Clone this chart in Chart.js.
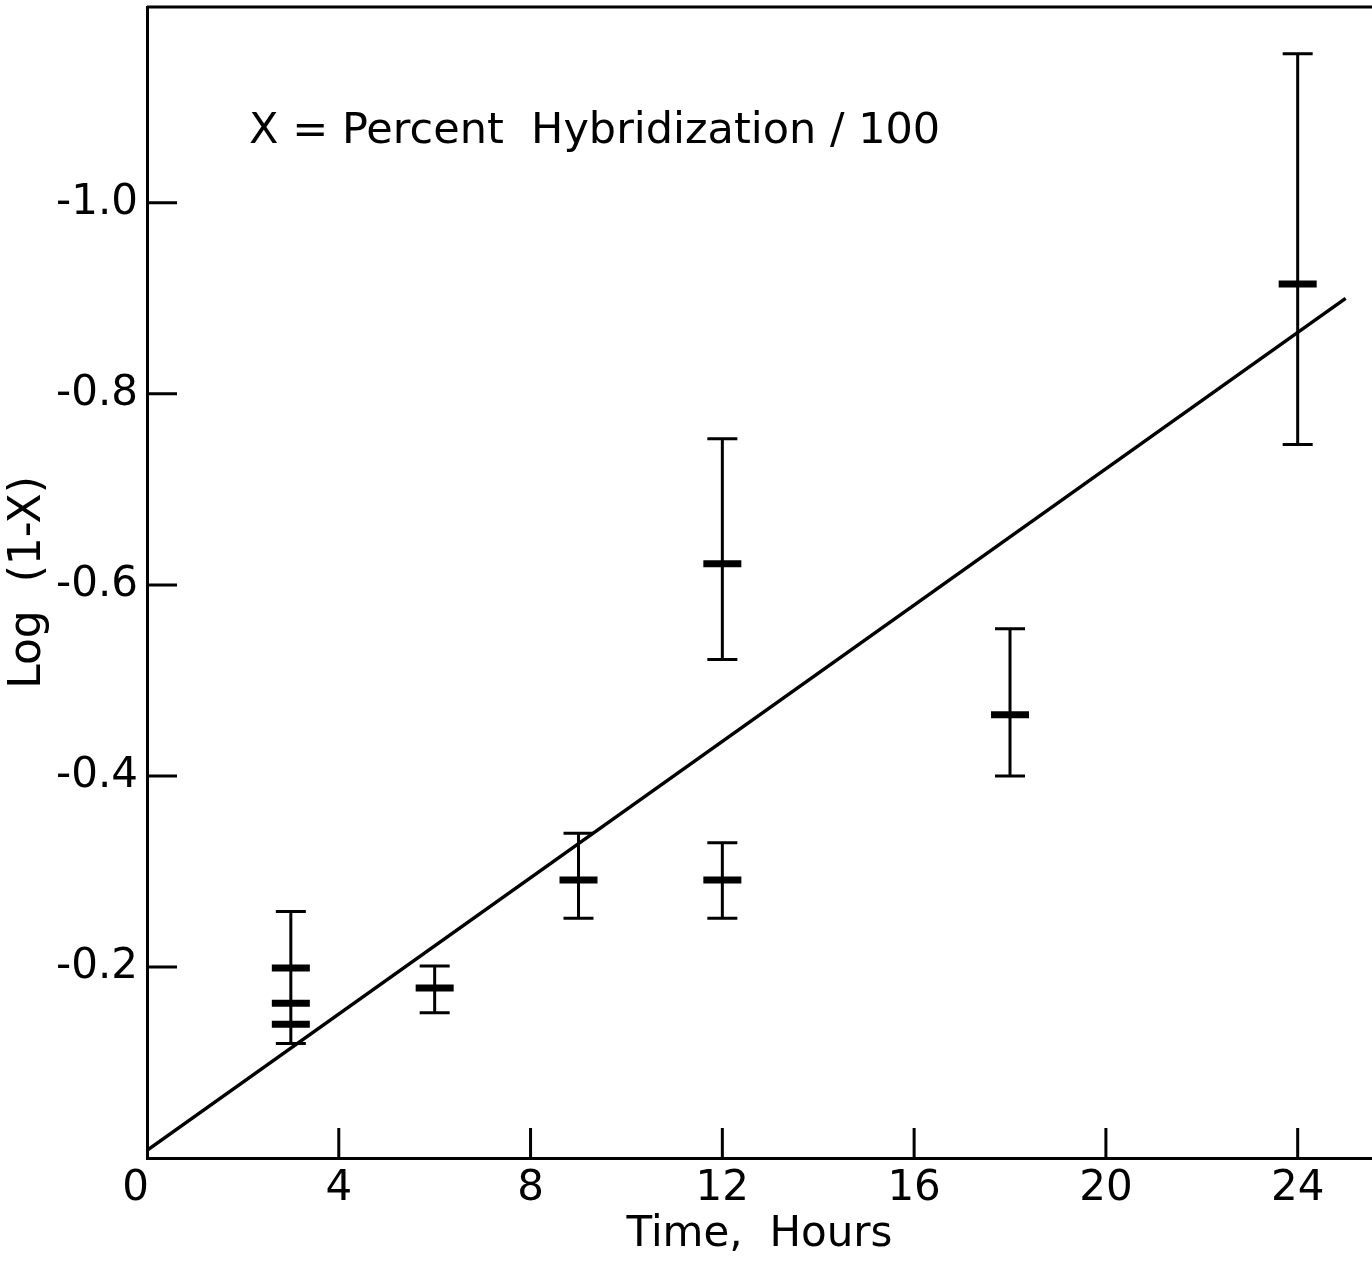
<!DOCTYPE html>
<html>
<head>
<meta charset="utf-8">
<script src="https://cdn.jsdelivr.net/npm/chart.js@4"></script>
<style>
  html, body { margin: 0; padding: 0; background: #fff; }
</style>
</head>
<body>
<canvas id="c" width="1372" height="1286"></canvas>
<script>
// measured points: time (h), log(1-X) centre, and error bar ends
var hours    = [3, 3, 3, 6, 9, 12, 12, 18, 24];
var logVals  = [-0.199, -0.162, -0.140, -0.178, -0.291, -0.291, -0.622, -0.464, -0.915];
var barLow   = [-0.120, null, null, -0.152, -0.251, -0.251, -0.522, -0.400, -0.747];
var barHigh  = [-0.258, null, null, -0.201, -0.340, -0.330, -0.753, -0.554, -1.156];

// fitted straight line
var fitHours = [0, 25];
var fitVals  = [-0.008, -0.900];

var xTicks = [0, 4, 8, 12, 16, 20, 24];
var yTicks = [-0.2, -0.4, -0.6, -0.8, -1.0];

var FONT = "'DejaVu Sans', sans-serif";

// error bars, inward tick marks + labels, top frame line and the note text
var extras = {
  id: 'extras',
  afterDatasetsDraw: function(chart) {
    var ctx = chart.ctx, xs = chart.scales.x, ys = chart.scales.y, area = chart.chartArea;
    ctx.save();
    ctx.strokeStyle = '#000';
    ctx.lineCap = 'butt';

    for (var i = 0; i < hours.length; i++) {
      if (barLow[i] == null) continue;
      var px = xs.getPixelForValue(hours[i]);
      var y1 = ys.getPixelForValue(barLow[i]);
      var y2 = ys.getPixelForValue(barHigh[i]);
      ctx.lineWidth = 3;
      ctx.beginPath();
      ctx.moveTo(px, y1); ctx.lineTo(px, y2);
      ctx.moveTo(px - 15, y1); ctx.lineTo(px + 15, y1);
      ctx.moveTo(px - 15, y2); ctx.lineTo(px + 15, y2);
      ctx.stroke();
    }

    // ticks pointing into the plot
    ctx.lineWidth = 3;
    ctx.beginPath();
    xTicks.forEach(function(v) {
      if (v === 0) return;
      var px = xs.getPixelForValue(v);
      ctx.moveTo(px, area.bottom); ctx.lineTo(px, area.bottom - 30);
    });
    yTicks.forEach(function(v) {
      var py = ys.getPixelForValue(v);
      ctx.moveTo(area.left, py); ctx.lineTo(area.left + 30, py);
    });
    // top frame
    ctx.moveTo(area.left, area.top); ctx.lineTo(area.right, area.top);
    ctx.stroke();

    ctx.fillStyle = '#000';
    ctx.font = '42px ' + FONT;
    ctx.textBaseline = 'alphabetic';
    xTicks.forEach(function(v) {
      ctx.textAlign = v === 0 ? 'right' : 'center';
      ctx.fillText(String(v), xs.getPixelForValue(v) + (v === 0 ? 2 : 0), area.bottom + 42);
    });
    ctx.textAlign = 'right';
    ctx.textBaseline = 'middle';
    yTicks.forEach(function(v) {
      ctx.fillText('-' + Math.abs(v).toFixed(1), area.left - 9, ys.getPixelForValue(v));
    });

    ctx.font = '43px ' + FONT;
    ctx.textAlign = 'left';
    ctx.textBaseline = 'alphabetic';
    ctx.fillText('X = Percent  Hybridization / 100', xs.getPixelForValue(2.13), ys.getPixelForValue(-1.063));
    ctx.restore();
  }
};

new Chart(document.getElementById('c'), {
  type: 'scatter',
  data: {
    datasets: [
      {
        data: hours.map(function(h, i) { return {x: h, y: logVals[i]}; }),
        pointStyle: 'line',
        pointRadius: 19,
        pointHoverRadius: 19,
        pointBorderWidth: 7,
        borderColor: '#000',
        backgroundColor: '#000'
      },
      {
        type: 'line',
        data: fitHours.map(function(h, i) { return {x: h, y: fitVals[i]}; }),
        borderColor: '#000',
        borderWidth: 3.5,
        pointRadius: 0,
        fill: false
      }
    ]
  },
  options: {
    responsive: false,
    animation: false,
    layout: { autoPadding: false, padding: { top: 7, right: 0, left: 0, bottom: 0 } },
    plugins: { legend: { display: false }, tooltip: { enabled: false } },
    scales: {
      x: {
        type: 'linear', min: 0, max: 25.55,
        afterBuildTicks: function(s) { s.ticks = xTicks.map(function(v) { return {value: v}; }); },
        afterFit: function(s) { s.height = 128; },
        grid: { display: false, drawTicks: false },
        border: { display: true, color: '#000', width: 3 },
        ticks: { display: false },
        title: { display: true, text: 'Time,  Hours', color: '#000',
                 font: { family: FONT, size: 42 }, padding: { top: 0, bottom: 26 } }
      },
      y: {
        type: 'linear', min: -1.205, max: 0, reverse: true,
        afterBuildTicks: function(s) { s.ticks = yTicks.map(function(v) { return {value: v}; }); },
        afterFit: function(s) { s.width = 147; },
        grid: { display: false, drawTicks: false },
        border: { display: true, color: '#000', width: 3 },
        ticks: { display: false },
        title: { display: true, text: 'Log  (1-X)', color: '#000',
                 font: { family: FONT, size: 44 }, padding: { top: 2, bottom: 0 } }
      }
    }
  },
  plugins: [extras]
});
</script>
</body>
</html>
